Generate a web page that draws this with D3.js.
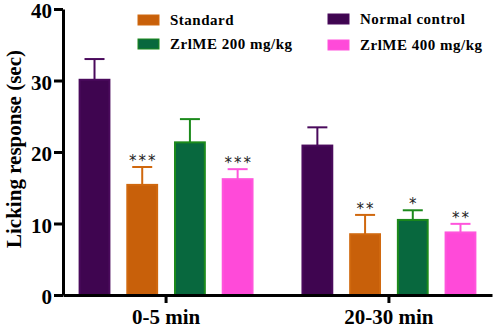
<!DOCTYPE html>
<html>
<head>
<meta charset="utf-8">
<script src="https://cdn.jsdelivr.net/npm/d3@7"></script>
<style>
  body { margin: 0; background: #fff; }
  svg { display: block; font-family: "Liberation Serif", "Times New Roman", serif; }
</style>
</head>
<body>
<div id="chart"></div>
<script>
// donnees
var groups = ["0-5 min", "20-30 min"];
var series = ["Normal control", "Standard", "ZrlME 200 mg/kg", "ZrlME 400 mg/kg"];
var means = [
  [30.1, 15.4, 21.35, 16.2],
  [20.9, 8.5, 10.5, 8.75]
];
var errs = [
  [2.9, 2.5, 3.25, 1.4],
  [2.55, 2.7, 1.35, 1.2]
];
var stars = [
  ["", "***", "", "***"],
  ["", "**", "*", "**"]
];
var yTicks = [0, 10, 20, 30, 40];

var fills = ["#3f0550", "#c8600a", "#08683e", "#ff4ad9"];
var strokes = ["#4a0a5c", "#d0680e", "#1c8a1c", "#ff55dc"];

var width = 498, height = 330;
var margin = {left: 63, right: 6, top: 9, bottom: 35};

var svg = d3.select("#chart").append("svg")
  .attr("width", width)
  .attr("height", height);

var x0 = d3.scaleBand()
  .domain(groups)
  .range([margin.left, width - margin.right])
  .paddingInner(0.215)
  .paddingOuter(0.07);

var x1 = d3.scaleBand()
  .domain(series)
  .range([0, x0.bandwidth()])
  .paddingInner(0.333)
  .paddingOuter(0);

var y = d3.scaleLinear()
  .domain([0, 40])
  .range([height - margin.bottom, margin.top]);

var data = [];
groups.forEach(function(g, i) {
  series.forEach(function(s, j) {
    data.push({group: g, serie: s, idx: j, v: means[i][j], e: errs[i][j], star: stars[i][j]});
  });
});

// barres
var bar = svg.append("g").selectAll("g")
  .data(data)
  .enter().append("g")
  .attr("transform", function(d) { return "translate(" + (x0(d.group) + x1(d.serie)) + ",0)"; });

var bw = x1.bandwidth();

bar.append("line")
  .attr("x1", bw / 2).attr("x2", bw / 2)
  .attr("y1", function(d) { return y(d.v); })
  .attr("y2", function(d) { return y(d.v + d.e); })
  .attr("stroke", function(d) { return strokes[d.idx]; })
  .attr("stroke-width", 2);

bar.append("line")
  .attr("x1", bw / 2 - 10).attr("x2", bw / 2 + 10)
  .attr("y1", function(d) { return y(d.v + d.e); })
  .attr("y2", function(d) { return y(d.v + d.e); })
  .attr("stroke", function(d) { return strokes[d.idx]; })
  .attr("stroke-width", 2);

bar.append("rect")
  .attr("x", 1)
  .attr("width", bw - 2)
  .attr("y", function(d) { return y(d.v); })
  .attr("height", function(d) { return y(0) - y(d.v); })
  .attr("fill", function(d) { return fills[d.idx]; })
  .attr("stroke", function(d) { return strokes[d.idx]; })
  .attr("stroke-width", 2);

bar.append("text")
  .attr("x", bw / 2 + 1)
  .attr("y", function(d) { return y(d.v + d.e) - 1; })
  .attr("text-anchor", "middle")
  .attr("font-family", "DejaVu Sans, sans-serif")
  .attr("font-size", 15)
  .attr("letter-spacing", 2)
  .attr("fill", "#222")
  .text(function(d) { return d.star; });

// axes
var yAxis = svg.append("g")
  .attr("transform", "translate(" + margin.left + ",0)")
  .call(d3.axisLeft(y).tickValues(yTicks).tickSize(9).tickPadding(2).tickSizeOuter(0));

var xAxis = svg.append("g")
  .attr("transform", "translate(0," + y(0) + ")")
  .call(d3.axisBottom(x0).tickSize(8).tickPadding(6).tickSizeOuter(0));

[yAxis, xAxis].forEach(function(a) {
  a.select(".domain").attr("stroke", "#000").attr("stroke-width", 3);
  a.selectAll(".tick line").attr("stroke", "#000").attr("stroke-width", 3);
  a.selectAll("text")
    .attr("font-family", "Liberation Serif, serif")
    .attr("font-weight", "bold")
    .attr("fill", "#000");
});
yAxis.selectAll("text").attr("font-size", 21).attr("dy", "0.42em");
xAxis.selectAll("text").attr("font-size", 21);

svg.append("text")
  .attr("transform", "translate(21," + (y(20) - 3) + ") rotate(-90)")
  .attr("text-anchor", "middle")
  .attr("font-weight", "bold")
  .attr("font-size", 21)
  .text("Licking response (sec)");

// legende
var legendPos = [[138, 20], [138, 44], [328, 19], [328, 45]];
var legendOrder = [1, 2, 0, 3];

var legend = svg.append("g").selectAll("g")
  .data(legendOrder)
  .enter().append("g")
  .attr("transform", function(d, i) { return "translate(" + legendPos[i][0] + "," + legendPos[i][1] + ")"; });

legend.append("rect")
  .attr("x", 0).attr("y", -5)
  .attr("width", 21).attr("height", 10)
  .attr("fill", function(d) { return fills[d]; })
  .attr("stroke", function(d) { return strokes[d]; })
  .attr("stroke-width", 1);

legend.append("text")
  .attr("x", 32)
  .attr("dy", "0.35em")
  .attr("font-weight", "bold")
  .attr("font-size", 15)
  .attr("letter-spacing", 0.5)
  .text(function(d) { return series[d]; });
</script>
</body>
</html>
